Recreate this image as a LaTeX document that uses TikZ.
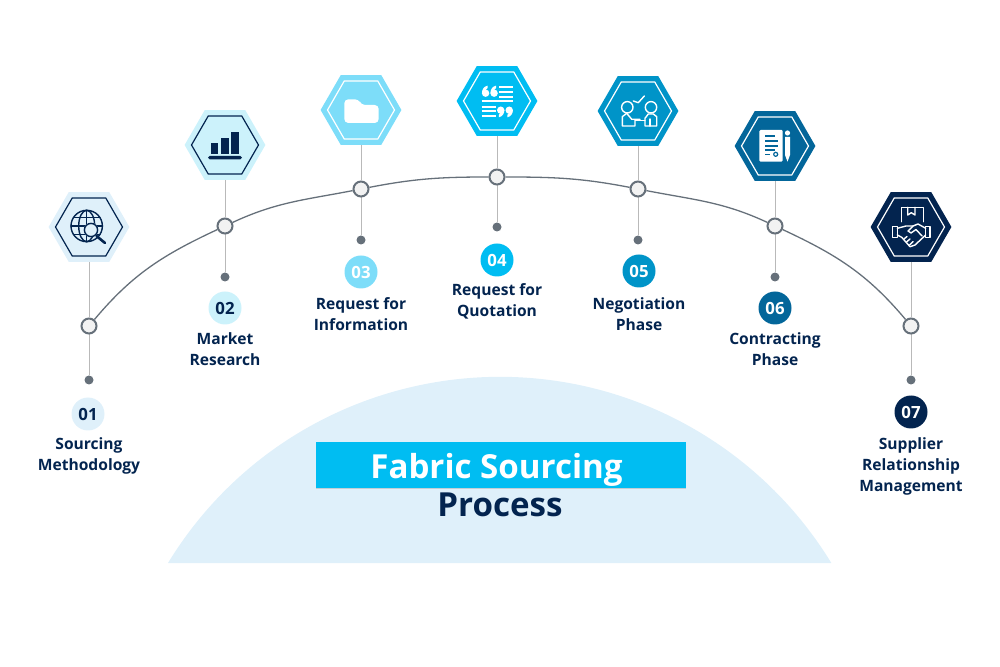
\documentclass[tikz,border=0pt]{standalone}
\usepackage{fontspec}
\setmainfont{Open Sans}
\usetikzlibrary{backgrounds,shapes.geometric,shadows}
\definecolor{dnavy}{rgb}{0.01,0.14,0.31}
\definecolor{dpale}{rgb}{0.875,0.94,0.98}
\definecolor{dice}{rgb}{0.80,0.95,0.985}
\definecolor{dsky}{rgb}{0.49,0.865,0.975}
\definecolor{dcyan}{rgb}{0,0.74,0.95}
\definecolor{docean}{rgb}{0,0.58,0.785}
\definecolor{dsea}{rgb}{0.01,0.40,0.605}
\definecolor{dgrey}{rgb}{0.40,0.44,0.48}
\tikzset{
  hexout/.style={regular polygon,regular polygon sides=6,minimum size=40.4pt,inner sep=0pt},
  hexin/.style={regular polygon,regular polygon sides=6,minimum size=33.5pt,inner sep=0pt,draw,line width=0.6pt},
  stem/.style={draw=gray!55,line width=0.5pt},
  ring/.style={circle,draw=dgrey,fill=gray!10,line width=1pt,minimum size=7.5pt,inner sep=0pt},
  pin/.style={circle,fill=dgrey,minimum size=4.5pt,inner sep=0pt},
  badge/.style={circle,minimum size=16.5pt,inner sep=0pt,font=\fontsize{8.4}{9}\selectfont\bfseries},
  tag/.style={align=center,text=dnavy,inner sep=0pt,font=\fontsize{7.8}{10.5}\selectfont\bfseries},
  icon/.style={line width=0.7pt,line join=round,line cap=round}
}
\begin{document}
\begin{tikzpicture}[x=0.5pt,y=-0.5pt]
\useasboundingbox (0,0) rectangle (1000,667);
% dome and title
\fill[dpale] (168,563) arc[start angle=148.6,end angle=31.4,radius=194.3pt] -- cycle;
\node[fill=dcyan,drop shadow={shadow xshift=0pt,shadow yshift=-0.7pt,opacity=0.3},minimum width=185pt,minimum height=23pt,inner sep=0pt] (banner) at (501,465) {};
\node[text=white,inner sep=0pt,font=\fontsize{16.55}{17}\selectfont\bfseries] (title) at (496.5,470) {Fabric Sourcing};
\node[text=dnavy,inner sep=0pt,font=\fontsize{16.55}{17}\selectfont\bfseries] (subtitle) at (500,505) {Process};
% hexagons
\node[hexout,fill=dpale] (h1) at (89,227) {};
\node[hexin,draw=dnavy] (k1) at (89,227) {};
\node[hexout,fill=dice] (h2) at (225,145) {};
\node[hexin,draw=dnavy] (k2) at (225,145) {};
\node[hexout,fill=dsky] (h3) at (361,110) {};
\node[hexin,draw=white] (k3) at (361,110) {};
\node[hexout,fill=dcyan] (h4) at (497,101) {};
\node[hexin,draw=white] (k4) at (497,101) {};
\node[hexout,fill=docean] (h5) at (638,111) {};
\node[hexin,draw=white] (k5) at (638,111) {};
\node[hexout,fill=dsea] (h6) at (775,146) {};
\node[hexin,draw=white] (k6) at (775,146) {};
\node[hexout,fill=dnavy] (h7) at (911,227) {};
\node[hexin,draw=white] (k7) at (911,227) {};
% rings and pins
\node[ring] (c1) at (89,326) {};
\node[ring] (c2) at (225,226) {};
\node[ring] (c3) at (361,189) {};
\node[ring] (c4) at (497,177) {};
\node[ring] (c5) at (638,189) {};
\node[ring] (c6) at (775,226) {};
\node[ring] (c7) at (911,326) {};
\node[pin] (p1) at (89,380) {};
\node[pin] (p2) at (225,277) {};
\node[pin] (p3) at (361,240) {};
\node[pin] (p4) at (497,227) {};
\node[pin] (p5) at (638,240) {};
\node[pin] (p6) at (775,277) {};
\node[pin] (p7) at (911,380) {};
\begin{scope}[on background layer]
\draw[stem] (h1) -- (c1) -- (p1);
\draw[stem] (h2) -- (c2) -- (p2);
\draw[stem] (h3) -- (c3) -- (p3);
\draw[stem] (h4) -- (c4) -- (p4);
\draw[stem] (h5) -- (c5) -- (p5);
\draw[stem] (h6) -- (c6) -- (p6);
\draw[stem] (h7) -- (c7) -- (p7);
\draw[dgrey,line width=0.65pt] (c1) to[out=50,in=205] (c2);
\draw[dgrey,line width=0.65pt] (c2) to[out=25,in=191] (c3);
\draw[dgrey,line width=0.65pt] (c3) to[out=11,in=180] (c4);
\draw[dgrey,line width=0.65pt] (c4) to[out=0,in=169] (c5);
\draw[dgrey,line width=0.65pt] (c5) to[out=-11,in=155] (c6);
\draw[dgrey,line width=0.65pt] (c6) to[out=-25,in=130] (c7);
\end{scope}
% badges and labels
\node[badge,fill=dpale,text=dnavy] (b1) at (88,414) {01};
\node[badge,fill=dice,text=dnavy] (b2) at (225,308) {02};
\node[badge,fill=dsky,text=white] (b3) at (361,272) {03};
\node[badge,fill=dcyan,text=white] (b4) at (497,260) {04};
\node[badge,fill=docean,text=white] (b5) at (639,271) {05};
\node[badge,fill=dsea,text=white] (b6) at (775,308) {06};
\node[badge,fill=dnavy,text=white] (b7) at (911,412) {07};
\node[tag] (t1) at (89,456) {Sourcing\\Methodology};
\node[tag] (t2) at (225,349) {Market\\Research};
\node[tag] (t3) at (361,314) {Request for\\Information};
\node[tag] (t4) at (497,301) {Request for\\Quotation};
\node[tag] (t5) at (639,314) {Negotiation\\Phase};
\node[tag] (t6) at (775,349) {Contracting\\Phase};
\node[tag] (t7) at (911,466) {Supplier\\Relationship\\Management};
% globe
\draw[icon,dnavy] (86.7,226) circle[radius=7.85pt];
\draw[icon,dnavy] (86.7,226) ellipse[x radius=4pt,y radius=7.85pt];
\draw[icon,dnavy] (86.7,210.3) -- (86.7,241.7) (71,226) -- (102.4,226);
\draw[icon,dnavy] (73.5,217.5) -- (99.9,217.5) (73.5,234.5) -- (99.9,234.5);
\fill[dpale] (91,230) circle[radius=3.6pt];
\draw[icon,dnavy] (91,230) circle[radius=3.3pt];
\draw[dnavy,line width=1.3pt,line cap=round] (96.5,236) -- (105,243);
% chart
\fill[dnavy] (210.7,142.7) rectangle (218.3,154.3);
\fill[dnavy] (221,138) rectangle (229,154.3);
\fill[dnavy] (231.3,132.3) rectangle (239.3,154.3);
\fill[dnavy,rounded corners=0.8pt] (208,156) rectangle (242,159.3);
% folder
\fill[white,rounded corners=2pt] (344.3,123) -- (344.3,99.3) -- (359,99.3) -- (361,105) -- (378.7,105) -- (378.7,123) -- cycle;
% quote
\fill[white] (485.6,93.2) circle[radius=1.85pt];
\fill[white] (494.1,93.2) circle[radius=1.85pt];
\fill[white] (481.9,93.5) .. controls (481.9,89) and (484,86.5) .. (487.5,85.7) -- (487.5,88) .. controls (485.8,89) and (485,91) .. (485,93.5) -- cycle;
\fill[white] (490.4,93.5) .. controls (490.4,89) and (492.5,86.5) .. (496,85.7) -- (496,88) .. controls (494.3,89) and (493.5,91) .. (493.5,93.5) -- cycle;
\fill[white] (500.7,110.2) circle[radius=1.85pt];
\fill[white] (509.2,110.2) circle[radius=1.85pt];
\fill[white] (504.4,109.9) .. controls (504.4,114) and (502.3,116.5) .. (498.8,117.3) -- (498.8,115) .. controls (500.5,114) and (501.3,112) .. (501.3,109.9) -- cycle;
\fill[white] (512.9,109.9) .. controls (512.9,114) and (510.8,116.5) .. (507.3,117.3) -- (507.3,115) .. controls (509,114) and (509.8,112) .. (509.8,109.9) -- cycle;
\draw[white,line width=1pt] (499.3,86.7) -- (513.3,86.7) (499.3,91.7) -- (513.3,91.7) (499.3,96.7) -- (513.3,96.7);
\draw[white,line width=1pt] (481.7,101.5) -- (513.3,101.5);
\draw[white,line width=1pt] (481.7,106.7) -- (496,106.7) (481.7,111) -- (496,111) (481.7,115.7) -- (496,115.7);
% negotiation
\draw[icon,white] (627.3,107.3) circle[radius=2.85pt];
\draw[icon,white] (651,107.3) circle[radius=2.85pt];
\draw[icon,white] (633.3,101) -- (638.3,102.7) -- (644.3,96);
\draw[icon,white] (635,120.7) -- (635,126) -- (622.3,126) -- (622.3,116.7) -- (626.7,113.3) -- (631.7,119.3) -- (640,119.3);
\draw[icon,white] (635,120.7) -- (645,120.7);
\draw[icon,white] (645,126) -- (645,118.3) -- (648.3,114) -- (653.3,114) -- (656.7,116.7) -- (656.7,126) -- cycle;
\draw[icon,white] (650,119) -- (650,126);
% contract
\fill[white,rounded corners=0.6pt] (759.3,130) rectangle (782.7,161.7);
\draw[dsea,line width=0.7pt] (765,136) -- (775,136) (765,141) -- (778.3,141) (765,146) -- (778.3,146) (765,150) -- (775,150) (765,154.3) -- (770,154.3);
\draw[dsea,line width=0.6pt] (775.7,154.3) circle[radius=1pt];
\fill[white] (787.5,133) circle[radius=1.3pt];
\fill[white] (785,137) -- (790,137) -- (790,155) -- (787.5,161.7) -- (785,155) -- cycle;
% handshake
\draw[icon,white] (901.7,221.7) -- (901.7,207.3) -- (923.3,207.3) -- (923.3,221.7);
\draw[icon,white] (907.7,207.3) -- (907.7,215) -- (911.3,212.7) -- (915,215) -- (915,207.3);
\draw[icon,white] (892.7,226.7) rectangle (897.3,237.3);
\draw[icon,white] (925.7,226.7) rectangle (930,237.3);
\draw[icon,white] (897.3,228.3) -- (906,226) -- (913,226) -- (918,224) -- (925.7,228.3);
\draw[icon,white] (897.3,235) -- (901.7,237.3) -- (910,246.7) -- (915,245) -- (925.7,235);
\draw[icon,white] (913,226) -- (908,231) -- (911,233) -- (916,229.5) -- (922,236);
\draw[icon,white] (904,239) -- (907,236.5) (906.5,242) -- (910,239) (909.5,245) -- (913,241.5);
\end{tikzpicture}
\end{document}
